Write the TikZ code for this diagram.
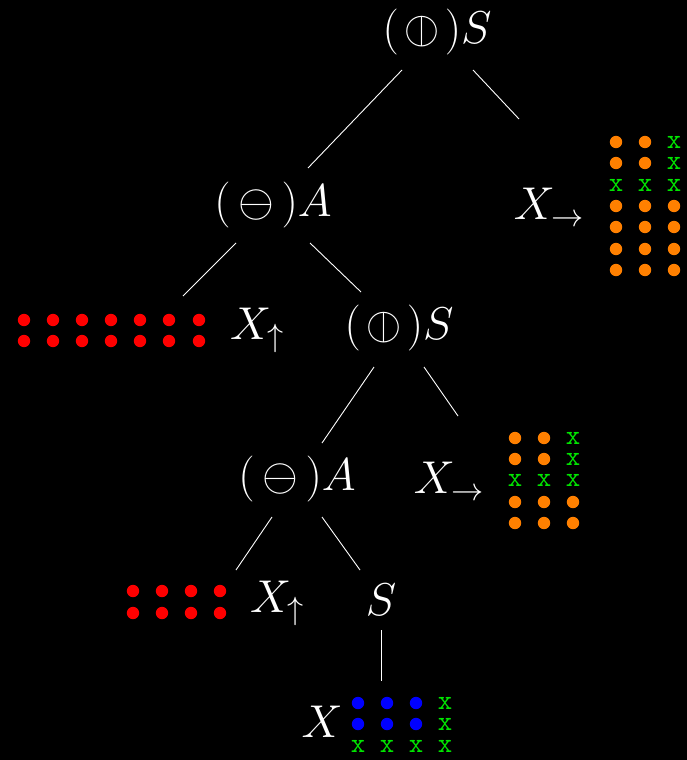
\RequirePackage{fix-cm}
\documentclass[tikz,border=0pt]{standalone}
\usepackage{graphicx}
\definecolor{dotorange}{RGB}{255,128,0}
\definecolor{dotred}{RGB}{255,0,0}
\definecolor{dotblue}{RGB}{0,0,255}
\definecolor{xgreen}{RGB}{0,230,0}
\newcommand{\vobar}{\mathord{\rotatebox[origin=c]{90}{$\ominus$}}}
\newcommand{\opS}{(\,\vobar\,)S}
\newcommand{\opA}{(\,\ominus\,)A}
\tikzset{
  lbl/.style={text=white, inner sep=0pt, font=\fontsize{46}{52}\selectfont},
  edge/.style={draw=white, line width=0.9pt},
  od/.style={fill=dotorange},
  rd/.style={fill=dotred},
  bd/.style={fill=dotblue},
  gx/.style={text=xgreen, inner sep=0pt, font=\fontsize{28}{28}\selectfont\ttfamily},
}
\newcommand{\dotat}[3]{\path[#1] (#2,#3) circle (6.2);}
\newcommand{\xat}[2]{\node[gx] at (#1,#2) {x};}
\begin{document}
\begin{tikzpicture}[x=1pt,y=-1pt]
\fill[black] (0,0) rectangle (687,760);
\useasboundingbox (0,0) rectangle (687,760);

% tree labels
\node[lbl] (s1) at (437,32) {$\opS$};
\node[lbl] (a1) at (273,205) {$\opA$};
\node[lbl] (xr1) at (549,207) {$X_{\rightarrow}$};
\node[lbl] (xu1) at (257,330) {$X_{\uparrow}$};
\node[lbl] (s2) at (399,328) {$\opS$};
\node[lbl] (a2) at (297,479) {$\opA$};
\node[lbl] (xr2) at (449,481) {$X_{\rightarrow}$};
\node[lbl] (xu2) at (277,603) {$X_{\uparrow}$};
\node[lbl] (s3) at (381,600) {$S$};
\node[lbl] (x3) at (322,722) {$X$};

% connector end points
\coordinate (s1-l) at (402,70);  \coordinate (a1-t) at (308,168);
\coordinate (s1-r) at (473,70);  \coordinate (xr1-t) at (519,119);
\coordinate (a1-l) at (236,243); \coordinate (xu1-t) at (183,296);
\coordinate (a1-r) at (310,243); \coordinate (s2-t) at (361,292);
\coordinate (s2-l) at (374,367); \coordinate (a2-t) at (322,443);
\coordinate (s2-r) at (424,367); \coordinate (xr2-t) at (458,416);
\coordinate (a2-l) at (272,517); \coordinate (xu2-t) at (236,570);
\coordinate (a2-r) at (322,517); \coordinate (s3-t) at (360,570);
\coordinate (s3-b) at (381,630); \coordinate (x3-t) at (381,681);

\draw[edge] (s1-l) -- (a1-t);
\draw[edge] (s1-r) -- (xr1-t);
\draw[edge] (a1-l) -- (xu1-t);
\draw[edge] (a1-r) -- (s2-t);
\draw[edge] (s2-l) -- (a2-t);
\draw[edge] (s2-r) -- (xr2-t);
\draw[edge] (a2-l) -- (xu2-t);
\draw[edge] (a2-r) -- (s3-t);
\draw[edge] (s3-b) -- (x3-t);

% upper orange grid (3 x 7)
\foreach \y in {142,163} {\dotat{od}{616}{\y}\dotat{od}{645}{\y}\xat{674}{\y}}
\foreach \x in {616,645,674} {\xat{\x}{185}}
\foreach \y in {206,227,249,270} {\foreach \x in {616,645,674} {\dotat{od}{\x}{\y}}}

% upper red grid (7 x 2)
\foreach \y in {320,341} {\foreach \x in {24,53,82,111,140,169,199} {\dotat{rd}{\x}{\y}}}

% lower orange grid (3 x 5)
\foreach \y in {438,459} {\dotat{od}{515}{\y}\dotat{od}{544}{\y}\xat{573}{\y}}
\foreach \x in {515,544,573} {\xat{\x}{480}}
\foreach \y in {502,523} {\foreach \x in {515,544,573} {\dotat{od}{\x}{\y}}}

% lower red grid (4 x 2)
\foreach \y in {591,613} {\foreach \x in {133,162,191,220} {\dotat{rd}{\x}{\y}}}

% blue grid with green border
\foreach \y in {703,724} {\dotat{bd}{358}{\y}\dotat{bd}{387}{\y}\dotat{bd}{416}{\y}\xat{445}{\y}}
\foreach \x in {358,387,416,445} {\xat{\x}{746}}
\end{tikzpicture}
\end{document}
